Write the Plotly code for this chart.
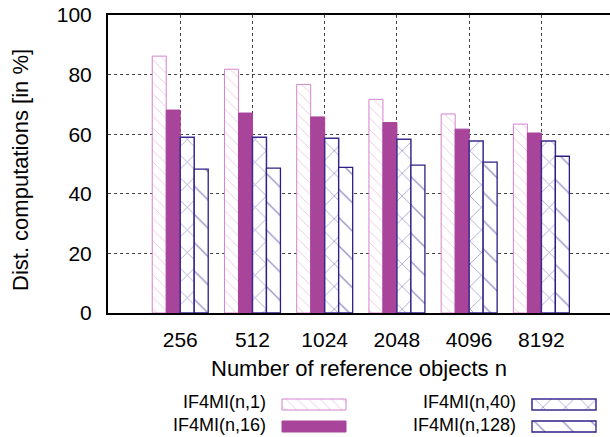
import plotly.graph_objects as go

categories = ["256", "512", "1024", "2048", "4096", "8192"]
series_names = ["IF4MI(n,1)", "IF4MI(n,16)", "IF4MI(n,40)", "IF4MI(n,128)"]
vals_n1 = [86.2, 81.8, 76.7, 71.7, 66.8, 63.4]
vals_n16 = [68.1, 67.1, 65.8, 63.9, 61.7, 60.4]
vals_n40 = [59.0, 59.0, 58.6, 58.3, 57.7, 57.7]
vals_n128 = [48.3, 48.6, 48.9, 49.6, 50.6, 52.6]
y_ticks = [0, 20, 40, 60, 80, 100]

W, H = 610, 437
FONT = "Liberation Sans, Arial, Helvetica, sans-serif"
FS = 21

styles = [
    dict(color="white", line=dict(color="#d483cc", width=1),
         pattern=dict(shape="\\", fgcolor="#d27ac8", bgcolor="white", size=8, solidity=0.1)),
    dict(color="#a8449a", line=dict(color="#a8449a", width=1)),
    dict(color="white", line=dict(color="#3b2a8e", width=1.5),
         pattern=dict(shape="x", fgcolor="#44389c", bgcolor="white", size=16, solidity=0.1)),
    dict(color="white", line=dict(color="#2e1f85", width=1.3),
         pattern=dict(shape="\\", fgcolor="#3a2c92", bgcolor="white", size=20, solidity=0.07)),
]
all_vals = [vals_n1, vals_n16, vals_n40, vals_n128]

fig = go.Figure()
for name, vals, st in zip(series_names, all_vals, styles):
    fig.add_trace(go.Bar(x=categories, y=vals, name=name, marker=st,
                         showlegend=False, xaxis="x", yaxis="y"))

# manual legend (text left, swatch right) drawn on a pixel-scaled overlay axis
swatch_pos = [(282, 404.5), (282, 426.5), (532, 404.5), (532, 426.5)]
for st, (sx, sy) in zip(styles, swatch_pos):
    fig.add_trace(go.Bar(orientation="h", y=[sy], x=[64], base=[sx], width=[11], offset=-5.5,
                         marker=st, showlegend=False, hoverinfo="skip",
                         xaxis="x2", yaxis="y2"))
for names, tx in [(series_names[0:2], 267), (series_names[2:4], 517)]:
    fig.add_annotation(x=tx, y=436, xref="x2", yref="y2", text="<br>".join(names),
                       showarrow=False, xanchor="right", yanchor="bottom", align="right",
                       borderpad=0, font=dict(family=FONT, size=18, color="black"))

fig.add_annotation(x=20 / W, y=1 - 170 / H, xref="paper", yref="paper",
                   text="Dist. computations [in %]", textangle=-90, showarrow=False,
                   xanchor="center", yanchor="middle",
                   font=dict(family=FONT, size=FS + 1, color="black"))
fig.add_annotation(x=359 / W, y=1 - 368 / H, xref="paper", yref="paper",
                   text="Number of reference objects n", showarrow=False,
                   xanchor="center", yanchor="middle",
                   font=dict(family=FONT, size=FS + 1, color="black"))

fig.update_layout(
    width=W, height=H,
    margin=dict(l=0, r=0, t=0, b=0),
    paper_bgcolor="white", plot_bgcolor="rgba(0,0,0,0)",
    barmode="group", bargap=0.225, bargroupgap=0,
    font=dict(family=FONT, size=FS, color="black"),
    xaxis=dict(domain=[108 / W, 1], range=[-1, 5.95], type="category", anchor="y",
               showline=True, linecolor="black", linewidth=2, mirror=True,
               showgrid=True, gridcolor="#444", griddash="dot", gridwidth=1,
               ticks="", ticklabelstandoff=7, zeroline=False, automargin=False,
               tickfont=dict(family=FONT, size=FS, color="black")),
    yaxis=dict(domain=[1 - 313 / H, 1 - 15 / H], range=[0, 100], anchor="x",
               tickvals=y_ticks, showline=True, linecolor="black", linewidth=2, mirror=False,
               showgrid=True, gridcolor="#444", griddash="dot", gridwidth=1,
               ticks="", ticklabelstandoff=10, zeroline=False, automargin=False,
               tickfont=dict(family=FONT, size=FS, color="black")),
    xaxis2=dict(domain=[0, 1], range=[0, W], visible=False, fixedrange=True, anchor="y2"),
    yaxis2=dict(domain=[0, 1], range=[H, 0], visible=False, fixedrange=True, anchor="x2"),
)

fig.write_html("out.html")
